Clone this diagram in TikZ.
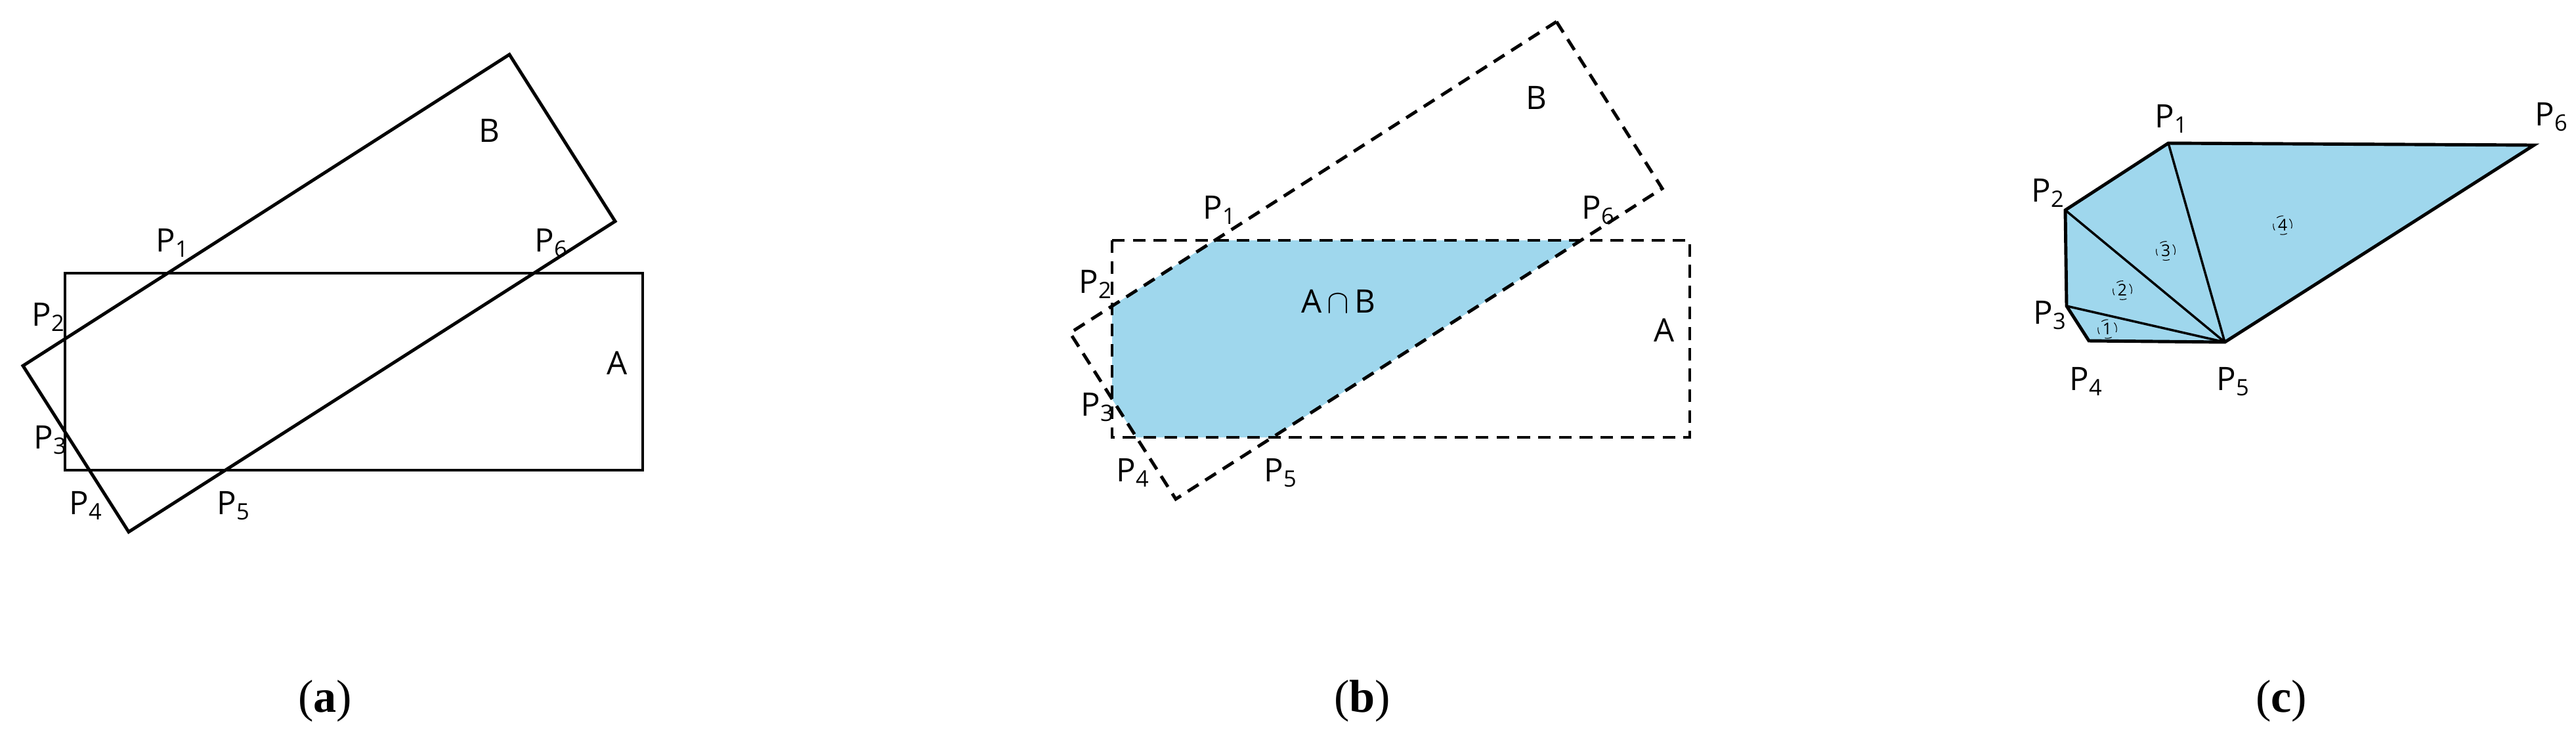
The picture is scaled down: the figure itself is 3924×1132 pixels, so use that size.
\documentclass[tikz,border=0pt]{standalone}
\usepackage{fontspec}
\setmainfont{Open Sans}
\newfontfamily\capfont{Liberation Serif}
\definecolor{fillblue}{HTML}{9FD7ED}
\begin{document}
\begin{tikzpicture}[x=0.1mm,y=-0.1mm,
  lbl/.style={font=\fontsize{14}{16}\selectfont,inner sep=0pt},
  captxt/.style={font=\capfont\fontsize{20}{24}\selectfont,inner sep=0pt},
  edge/.style={line width=1.4pt,line join=miter},
  dedge/.style={line width=1.4pt,dash pattern=on 5.5pt off 3.5pt},
  num/.style={draw,circle,dashed,line width=0.3pt,inner sep=0.6pt,font=\fontsize{7}{8}\selectfont}]
\useasboundingbox (0,0) rectangle (3924,1132);
% ---------- (a)
\coordinate (aA1) at (99,416); \coordinate (aA2) at (979,416);
\coordinate (aA3) at (979,716); \coordinate (aA4) at (99,716);
\coordinate (aB1) at (776,83); \coordinate (aB2) at (937,337);
\coordinate (aB3) at (196,810); \coordinate (aB4) at (35,557);
\draw[edge] (aA1) -- (aA2) -- (aA3) -- (aA4) -- cycle;
\draw[edge] (aB1) -- (aB2) -- (aB3) -- (aB4) -- cycle;
\node[lbl] (ap1) at (263,370) {P\textsubscript{1}};
\node[lbl] (ap6) at (840,370) {P\textsubscript{6}};
\node[lbl] (ap2) at (74,483) {P\textsubscript{2}};
\node[lbl] (ap3) at (77,670) {P\textsubscript{3}};
\node[lbl] (ap4) at (131,770) {P\textsubscript{4}};
\node[lbl] (ap5) at (356,770) {P\textsubscript{5}};
\node[lbl] (aB) at (745,199) {B};
\node[lbl] (aA) at (940,553) {A};
\node[captxt] (capa) at (495,1068) {(\textbf{a})};
% ---------- (b)
\begin{scope}[shift={(1595,-50)}]
\coordinate (b1) at (255.4,416); \coordinate (b2) at (99,516);
\coordinate (b3) at (99,657.6); \coordinate (b4) at (136,716);
\coordinate (b5) at (343.3,716); \coordinate (b6) at (813.3,416);
\fill[fillblue] (b1) -- (b2) -- (b3) -- (b4) -- (b5) -- (b6) -- cycle;
\coordinate (bA1) at (99,416); \coordinate (bA2) at (979,416);
\coordinate (bA3) at (979,716); \coordinate (bA4) at (99,716);
\coordinate (bB1) at (776,83); \coordinate (bB2) at (937,337);
\coordinate (bB3) at (196,810); \coordinate (bB4) at (35,557);
\draw[dedge] (bA1) -- (bA2) -- (bA3) -- (bA4) -- cycle;
\draw[dedge] (bB1) -- (bB2) -- (bB3) -- (bB4) -- cycle;
\node[lbl] (bp1) at (263,370) {P\textsubscript{1}};
\node[lbl] (bp6) at (840,370) {P\textsubscript{6}};
\node[lbl] (bp2) at (74,483) {P\textsubscript{2}};
\node[lbl] (bp3) at (77,670) {P\textsubscript{3}};
\node[lbl] (bp4) at (131,770) {P\textsubscript{4}};
\node[lbl] (bp5) at (356,770) {P\textsubscript{5}};
\node[lbl] (bB) at (745,199) {B};
\node[lbl] (bA) at (940,553) {A};
\node[lbl] (bAB) at (444,509) {A\,$\cap$\,B};
\end{scope}
\node[captxt] (capb) at (2075,1068) {(\textbf{b})};
% ---------- (c)
\coordinate (c1) at (3303,218); \coordinate (c6) at (3860,221);
\coordinate (c2) at (3146,320); \coordinate (c3) at (3148,466);
\coordinate (c4) at (3182,519); \coordinate (c5) at (3389,521);
\fill[fillblue] (c1) -- (c6) -- (c5) -- (c4) -- (c3) -- (c2) -- cycle;
\draw[edge] (c1) -- (c6) -- (c5) -- (c4) -- (c3) -- (c2) -- cycle;
\draw[line width=1pt] (c5) -- (c1) (c5) -- (c2) (c5) -- (c3);
\node[lbl] (cp1) at (3308,181) {P\textsubscript{1}};
\node[lbl] (cp6) at (3887,178) {P\textsubscript{6}};
\node[lbl] (cp2) at (3120,294) {P\textsubscript{2}};
\node[lbl] (cp3) at (3123,480) {P\textsubscript{3}};
\node[lbl] (cp4) at (3178,581) {P\textsubscript{4}};
\node[lbl] (cp5) at (3402,581) {P\textsubscript{5}};
\node[num] (n1) at (3210,501) {1};
\node[num] (n2) at (3233,442) {2};
\node[num] (n3) at (3299,382) {3};
\node[num] (n4) at (3477,343) {4};
\node[captxt] (capc) at (3475,1068) {(\textbf{c})};
\end{tikzpicture}
\end{document}
